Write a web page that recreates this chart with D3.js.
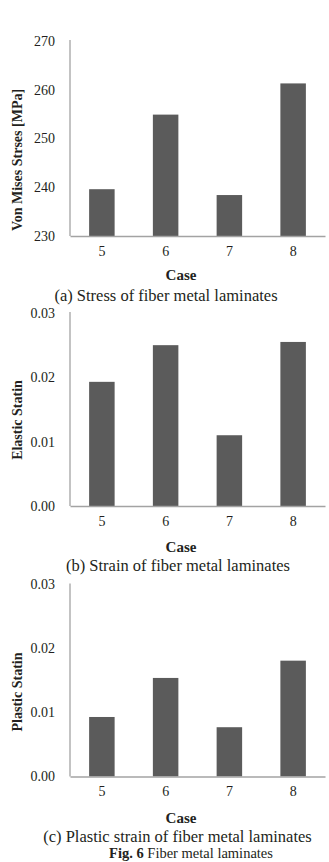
<!DOCTYPE html>
<html>
<head>
<meta charset="utf-8">
<script src="https://cdn.jsdelivr.net/npm/d3@7"></script>
<style>
    body { margin: 0; background: #fff; }
    svg { display: block; }
    text { font-family: "Liberation Serif", "Times New Roman", serif; fill: #231f20; }
</style>
</head>
<body>
<svg id="chart" width="329" height="862"></svg>
<script>
// chart data
var cases = ["5", "6", "7", "8"];
var stress = [239.6, 254.9, 238.4, 261.3];
var elasticStrain = [0.0193, 0.0250, 0.0110, 0.0255];
var plasticStrain = [0.0093, 0.0154, 0.0077, 0.0181];
var stressTicks = [230, 240, 250, 260, 270];
var strainTicks = [0, 0.01, 0.02, 0.03];

var svg = d3.select("#chart");

// one panel per sub-figure
var panels = [
    { values: stress, ticks: stressTicks, domain: [230, 270], fmt: d3.format("d"),
      top: 41, bottom: 236, yTitle: "Von Mises Strses [MPa]", yTitleY: 160,
      caseY: 280, caption: "(a) Stress of fiber metal laminates", capX: 166, capY: 300.5 },
    { values: elasticStrain, ticks: strainTicks, domain: [0, 0.03], fmt: d3.format(".2f"),
      top: 313, bottom: 506, yTitle: "Elastic Statin", yTitleY: 420,
      caseY: 551.5, caption: "(b) Strain of fiber metal laminates", capX: 178, capY: 570.5 },
    { values: plasticStrain, ticks: strainTicks, domain: [0, 0.03], fmt: d3.format(".2f"),
      top: 584.5, bottom: 776.5, yTitle: "Plastic Statin", yTitleY: 692,
      caseY: 823, caption: "(c) Plastic strain of fiber metal laminates", capX: 177.5, capY: 842 }
];

var x = d3.scaleBand().domain(cases).range([70, 325]).paddingInner(0.6).paddingOuter(0.3);

panels.forEach(function (p) {
    var y = d3.scaleLinear().domain(p.domain).range([p.bottom, p.top]);
    var g = svg.append("g");

    // bars
    g.selectAll("rect").data(p.values).enter().append("rect")
        .attr("x", function (d, i) { return x(cases[i]); })
        .attr("y", function (d) { return y(d); })
        .attr("width", x.bandwidth())
        .attr("height", function (d) { return y(p.domain[0]) - y(d); })
        .attr("fill", "#5b5b5b");

    // y axis
    var ya = g.append("g").attr("transform", "translate(70,0)")
        .call(d3.axisLeft(y).tickValues(p.ticks).tickFormat(p.fmt).tickSize(0).tickSizeOuter(0).tickPadding(15));
    ya.select(".domain").attr("stroke", "#a3a3a3").attr("stroke-width", 1.3)
        .attr("d", "M0," + (p.top - 1) + "V" + p.bottom);
    ya.selectAll("text").attr("font-size", "14px").attr("font-family", "Liberation Serif").attr("fill", "#231f20");

    // x axis
    var xa = g.append("g").attr("transform", "translate(0," + p.bottom + ")")
        .call(d3.axisBottom(x).tickSize(0).tickSizeOuter(0).tickPadding(10));
    xa.select(".domain").attr("stroke", "#a3a3a3").attr("stroke-width", 1.3);
    xa.selectAll("text").attr("font-size", "14px").attr("font-family", "Liberation Serif").attr("fill", "#231f20");

    // titles
    g.append("text")
        .attr("transform", "translate(22," + p.yTitleY + ") rotate(-90)")
        .attr("text-anchor", "middle")
        .attr("font-size", "14px")
        .attr("font-weight", "bold")
        .text(p.yTitle);

    g.append("text")
        .attr("x", 181).attr("y", p.caseY)
        .attr("text-anchor", "middle")
        .attr("font-size", "15px")
        .attr("font-weight", "bold")
        .text("Case");

    g.append("text")
        .attr("x", p.capX).attr("y", p.capY)
        .attr("text-anchor", "middle")
        .attr("font-size", "16.5px")
        .text(p.caption);
});

// figure caption at the bottom edge
var fig = svg.append("text")
    .attr("x", 191).attr("y", 858)
    .attr("text-anchor", "middle")
    .attr("font-size", "14.5px");
fig.append("tspan").attr("font-weight", "bold").text("Fig. 6");
fig.append("tspan").text(" Fiber metal laminates");
</script>
</body>
</html>
